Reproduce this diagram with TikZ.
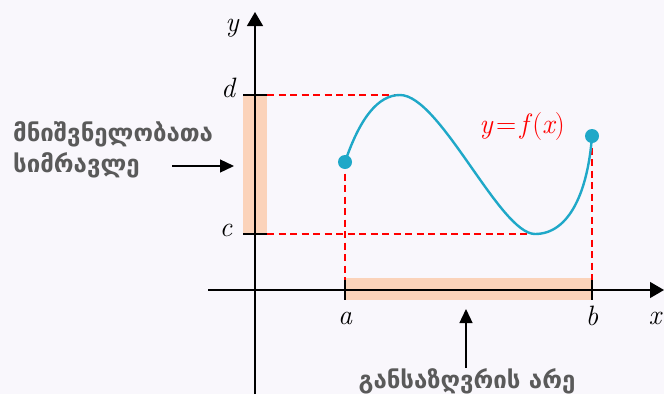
\documentclass[tikz,border=0pt]{standalone}
\usepackage{fontspec}
\newfontfamily\geofont[Script=Georgian]{DejaVu Sans}
\usetikzlibrary{arrows.meta}
\definecolor{bgpaper}{HTML}{F9F7FC}
\definecolor{curveblue}{HTML}{1FA8C8}
\definecolor{bandpeach}{HTML}{FBD3BA}
\definecolor{labelgrey}{HTML}{5A5A5A}
\tikzset{
  axis/.style={line width=1.3pt,-{Triangle[length=14pt,width=16pt]}},
  guide/.style={red,line width=1.9pt,dash pattern=on 7pt off 4.5pt},
  band/.style={fill=bandpeach},
  tickmark/.style={line width=2pt},
  pointer/.style={line width=1.3pt,-{Triangle[length=14pt,width=13pt]}},
  georgian/.style={font=\geofont\bfseries\fontsize{24}{31}\selectfont,text=labelgrey,align=left,inner sep=0pt},
  mathlabel/.style={font=\fontsize{28}{30}\selectfont\itshape,inner sep=0pt}
}
\begin{document}
\begin{tikzpicture}[x=1pt,y=-1pt]
  \fill[bgpaper] (0,0) rectangle (664,394);
  \useasboundingbox (0,0) rectangle (664,394);
  \coordinate (O) at (255,290);
  \coordinate (A) at (345,290);
  \coordinate (B) at (592,290);
  \coordinate (C) at (255,234);
  \coordinate (D) at (255,95);
  \coordinate (P) at (345,162);
  \coordinate (Q) at (592,136);
  \coordinate (M) at (400,95);
  \coordinate (N) at (535,234);
  % ranges
  \fill[band] (243,95) rectangle (267,234);
  \fill[band] (345,278) rectangle (592,300);
  % guides
  \draw[guide] (267,95) -- (M);
  \draw[guide] (267,234) -- (N);
  \draw[guide] (P) -- (A);
  \draw[guide] (Q) -- (B);
  % axes
  \draw[axis] (255,394) -- (255,12);
  \draw[axis] (208,290) -- (664,290);
  \draw[tickmark] (243,95) -- (267,95);
  \draw[tickmark] (243,234) -- (267,234);
  \draw[tickmark] (345,280) -- (345,300);
  \draw[tickmark] (592,280) -- (592,300);
  % graph
  \draw[curveblue,line width=2.4pt] (P) .. controls (360,118) and (378,95) .. (M)
    .. controls (440,95) and (500,234) .. (N)
    .. controls (570,234) and (588,190) .. (Q);
  \fill[curveblue] (P) circle (7);
  \fill[curveblue] (Q) circle (7);
  \node[mathlabel,red] (flab) at (522,127) {y\kern3.5pt\upshape=\kern3.5pt\itshape f\/\upshape(\itshape x\upshape)};
  \node[mathlabel] (ylab) at (232,28) {y};
  \node[mathlabel] (dlab) at (228,88) {d};
  \node[mathlabel] (clab) at (226,230) {c};
  \node[mathlabel] (alab) at (345,318) {a};
  \node[mathlabel] (blab) at (592,316) {b};
  \node[mathlabel] (xlab) at (655,318) {x};
  % names of the sets
  \node[georgian,anchor=base west] (rng) at (13,172) {მნიშვნელობათა\\სიმრავლე};
  \node[georgian,anchor=base] (dom) at (467,388) {განსაზღვრის არე};
  \coordinate (rngtail) at (172,166);
  \coordinate (rnghead) at (234,166);
  \coordinate (domtail) at (466,368);
  \coordinate (domhead) at (466,309);
  \draw[pointer] (rngtail) -- (rnghead);
  \draw[pointer] (domtail) -- (domhead);
\end{tikzpicture}
\end{document}
